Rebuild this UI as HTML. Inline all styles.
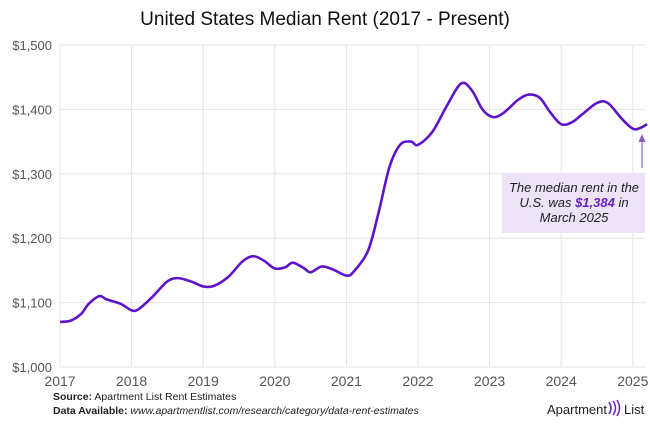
<!DOCTYPE html>
<html><head><meta charset="utf-8"><style>
body{margin:0;background:#fff;width:650px;height:420px;overflow:hidden;font-family:"Liberation Sans",sans-serif}
svg text{font-family:"Liberation Sans",sans-serif}
</style></head><body>
<svg id="s" width="650" height="420" xmlns="http://www.w3.org/2000/svg">
<text x="325" y="25" text-anchor="middle" font-size="19" fill="#111">United States Median Rent (2017 - Present)</text>
<g id="grid" stroke="#e4e4e4" stroke-width="1"></g>
<g id="lab" font-size="13" fill="#555"></g>
<rect x="502" y="173" width="143" height="60" fill="#ece3f7"/>
<line x1="642" y1="168" x2="642" y2="139" stroke="#8a5cc0" stroke-width="1.2"/>
<path d="M638.5,142 L642,134 L645.5,142 Z" fill="#8a5cc0"/>
<g font-size="13" font-style="italic" fill="#222" text-anchor="middle">
<text x="574" y="192">The median rent in the</text>
<text x="574" y="207">U.S. was <tspan font-weight="bold" fill="#6a1fc2">$1,384</tspan> in</text>
<text x="574" y="222">March 2025</text>
</g>
<path id="ln" fill="none" stroke="#5e14c9" stroke-width="2.6" stroke-linejoin="round"/>
<text x="53" y="400" font-size="10.5" fill="#222"><tspan font-weight="bold">Source:</tspan> Apartment List Rent Estimates</text>
<text x="53" y="414" font-size="10.5" fill="#222"><tspan font-weight="bold">Data Available:</tspan> <tspan font-style="italic">www.apartmentlist.com/research/category/data-rent-estimates</tspan></text>
<text x="547" y="414" font-size="13" fill="#222">Apartment</text>
<path d="M609,402 q4,6 0,12 M613,401 q5,7 0,14 M617,400 q5,8 0,16" stroke="#6a1fc2" fill="none" stroke-width="1.5"/>
<text x="624" y="414" font-size="13" fill="#222">List</text>
</svg>
<script>
var X=function(t){return 60+(t-2017)*71.6},Y=function(v){return 367-(v-1000)*0.644};
var g=document.getElementById('grid'),l=document.getElementById('lab'),ns='http://www.w3.org/2000/svg';
function el(p,n,a,t){var e=document.createElementNS(ns,n);for(var k in a)e.setAttribute(k,a[k]);if(t)e.textContent=t;p.appendChild(e);}
for(var v=1000;v<=1500;v+=100){el(g,'line',{x1:60,x2:646,y1:Y(v),y2:Y(v)});el(l,'text',{x:52,y:Y(v)+5,'text-anchor':'end'},'$'+(v/1000|0)+','+String(v%1000).padStart(3,'0'));}
for(var y=2017;y<=2025;y++){el(g,'line',{x1:X(y),x2:X(y),y1:Y(1500),y2:Y(1000)});el(l,'text',{x:X(y),y:386,'text-anchor':'middle','font-size':14},y);}
var d=[[2017,1070],[2017.15,1072],[2017.3,1083],[2017.4,1098],[2017.55,1110],[2017.65,1105],[2017.85,1098],[2018,1088],[2018.1,1090],[2018.3,1110],[2018.5,1133],[2018.65,1138],[2018.85,1132],[2019,1125],[2019.15,1126],[2019.35,1140],[2019.55,1164],[2019.7,1172],[2019.85,1165],[2020,1153],[2020.15,1155],[2020.25,1162],[2020.4,1154],[2020.5,1147],[2020.65,1156],[2020.8,1152],[2021,1142],[2021.1,1148],[2021.3,1180],[2021.45,1240],[2021.6,1310],[2021.75,1345],[2021.9,1350],[2022,1345],[2022.2,1365],[2022.4,1405],[2022.6,1440],[2022.75,1430],[2022.9,1400],[2023.05,1388],[2023.2,1395],[2023.4,1415],[2023.55,1423],[2023.7,1418],[2023.85,1395],[2024,1377],[2024.15,1380],[2024.3,1393],[2024.5,1410],[2024.65,1410],[2024.85,1385],[2025,1370],[2025.1,1371],[2025.2,1377]];
var p=d.map(function(a){return[X(a[0]),Y(a[1])]});var s='M'+p[0];
for(var i=0;i<p.length-1;i++){var a=p[i-1]||p[i],b=p[i],c=p[i+1],e=p[i+2]||c;
s+=' C'+(b[0]+(c[0]-a[0])/6)+','+(b[1]+(c[1]-a[1])/6)+' '+(c[0]-(e[0]-b[0])/6)+','+(c[1]-(e[1]-b[1])/6)+' '+c;}
document.getElementById('ln').setAttribute('d',s);
</script>
</body></html>
